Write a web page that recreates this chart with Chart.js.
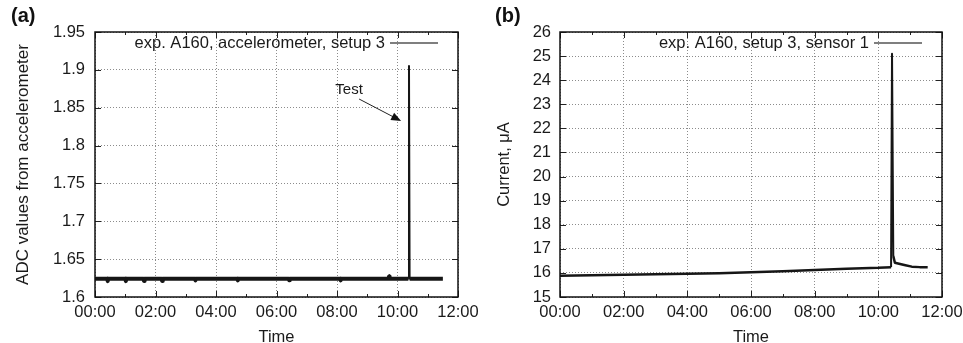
<!DOCTYPE html>
<html>
<head>
<meta charset="utf-8">
<script src="https://cdn.jsdelivr.net/npm/chart.js@4.4.0/dist/chart.umd.min.js"></script>
<style>
html, body { margin: 0; padding: 0; background: #fff; }
#wrap { position: relative; width: 963px; height: 343px; }
.box { position: absolute; top: 0; height: 343px; }
#boxA { left: 0; width: 480px; }
#boxB { left: 480px; width: 483px; }
</style>
</head>
<body>
<div id="wrap">
  <div class="box" id="boxA"><canvas id="chartA" width="480" height="343"></canvas></div>
  <div class="box" id="boxB"><canvas id="chartB" width="483" height="343"></canvas></div>
</div>
<script>
// time axis labels (hours 0..12, every 2 h)
var timeLabels = ["00:00", "02:00", "04:00", "06:00", "08:00", "10:00", "12:00"];

// (a) accelerometer ADC values, time in hours
var accelTime = [0.00, 0.40, 0.42, 0.44, 1.00, 1.02, 1.04, 1.60, 1.62, 1.64, 2.20, 2.22, 2.24,
                 3.30, 3.32, 3.34, 4.70, 4.72, 4.74, 6.40, 6.42, 6.44, 8.10, 8.12, 8.14,
                 9.70, 9.72, 9.74, 10.36, 10.38, 10.40, 10.80, 11.20, 11.50];
var accelValue = [1.624, 1.624, 1.621, 1.624, 1.624, 1.621, 1.624, 1.624, 1.621, 1.624, 1.624, 1.621, 1.624,
                  1.624, 1.622, 1.624, 1.624, 1.622, 1.624, 1.624, 1.622, 1.624, 1.624, 1.622, 1.624,
                  1.624, 1.627, 1.624, 1.624, 1.905, 1.624, 1.624, 1.624, 1.624];

// (b) sensor current, µA
var currentTime = [0, 1, 2, 3, 4, 5, 6, 7, 8, 9, 10, 10.40, 10.43, 10.47, 10.52, 10.65, 10.85, 11.05, 11.30, 11.55];
var currentValue = [15.88, 15.90, 15.92, 15.94, 15.96, 15.99, 16.03, 16.07, 16.12, 16.17, 16.21, 16.24, 25.1, 16.7,
                    16.42, 16.38, 16.32, 16.26, 16.24, 16.24];

Chart.defaults.font.family = "'Liberation Sans', Arial, sans-serif";
Chart.defaults.font.size = 16.5;
Chart.defaults.color = "#1a1a1a";

function toPoints(xs, ys) {
    return xs.map(function(x, i) { return { x: x, y: ys[i] }; });
}

var framePlugin = {
    id: "frame",
    afterDraw: function(chart, args, opts) {
        var ctx = chart.ctx;
        var a = chart.chartArea;
        var xs = chart.scales.x, ys = chart.scales.y;
        ctx.save();
        // inward tick marks on all four sides
        ctx.strokeStyle = "#222";
        ctx.lineWidth = 1;
        ctx.beginPath();
        xs.ticks.forEach(function(t) {
            var px = Math.round(xs.getPixelForValue(t.value)) + 0.5;
            var len = t.value % 2 === 0 ? 6 : 3;
            ctx.moveTo(px, a.bottom); ctx.lineTo(px, a.bottom - len);
            ctx.moveTo(px, a.top); ctx.lineTo(px, a.top + len);
        });
        ys.ticks.forEach(function(t) {
            var py = Math.round(ys.getPixelForValue(t.value)) + 0.5;
            ctx.moveTo(a.left, py); ctx.lineTo(a.left + 6, py);
            ctx.moveTo(a.right, py); ctx.lineTo(a.right - 6, py);
        });
        ctx.stroke();
        // frame
        ctx.lineWidth = 1.5;
        ctx.strokeStyle = "#111";
        ctx.strokeRect(a.left, a.top, a.right - a.left, a.bottom - a.top);

        // x axis title
        ctx.font = "16.5px 'Liberation Sans', Arial, sans-serif";
        ctx.fillStyle = "#1a1a1a";
        ctx.textAlign = "center";
        ctx.textBaseline = "alphabetic";
        ctx.fillText("Time", (a.left + a.right) / 2, a.bottom + 45);

        // legend inside the box
        var ly = a.top + 11;
        ctx.textAlign = "right";
        ctx.textBaseline = "middle";
        ctx.fillText(opts.legend, a.right - 73, ly);
        ctx.strokeStyle = "#555";
        ctx.lineWidth = 1.5;
        ctx.beginPath();
        ctx.moveTo(a.right - 68, ly); ctx.lineTo(a.right - 20, ly);
        ctx.stroke();

        // annotation arrow
        if (opts.arrow) {
            var ar = opts.arrow;
            var tx = xs.getPixelForValue(ar.textAt[0]), ty = ys.getPixelForValue(ar.textAt[1]);
            ctx.font = "15px 'Liberation Sans', Arial, sans-serif";
            ctx.textAlign = "center";
            ctx.fillText(ar.text, tx, ty);
            var x1 = xs.getPixelForValue(ar.from[0]), y1 = ys.getPixelForValue(ar.from[1]);
            var x2 = xs.getPixelForValue(ar.to[0]), y2 = ys.getPixelForValue(ar.to[1]);
            var ang = Math.atan2(y2 - y1, x2 - x1);
            ctx.strokeStyle = "#222";
            ctx.lineWidth = 1;
            ctx.beginPath();
            ctx.moveTo(x1, y1); ctx.lineTo(x2 - 8 * Math.cos(ang), y2 - 8 * Math.sin(ang));
            ctx.stroke();
            ctx.fillStyle = "#111";
            ctx.beginPath();
            ctx.moveTo(x2, y2);
            ctx.lineTo(x2 - 10 * Math.cos(ang) + 4 * Math.sin(ang), y2 - 10 * Math.sin(ang) - 4 * Math.cos(ang));
            ctx.lineTo(x2 - 10 * Math.cos(ang) - 4 * Math.sin(ang), y2 - 10 * Math.sin(ang) + 4 * Math.cos(ang));
            ctx.closePath();
            ctx.fill();
        }

        // panel label
        ctx.font = "bold 20px 'Liberation Sans', Arial, sans-serif";
        ctx.fillStyle = "#111";
        ctx.textAlign = "left";
        ctx.textBaseline = "alphabetic";
        ctx.fillText(opts.panel, opts.panelX, 22);
        ctx.restore();
    }
};

function makeChart(canvasId, xs, ys, cfg) {
    return new Chart(document.getElementById(canvasId), {
        type: "line",
        data: {
            datasets: [{
                data: toPoints(xs, ys),
                borderColor: "#161616",
                borderWidth: cfg.lineWidth,
                borderJoinStyle: "round",
                segment: {
                    // the tall spike is drawn thinner than the noisy base line
                    borderWidth: function(s) {
                        var big = Math.abs(s.p1.parsed.y - s.p0.parsed.y) > cfg.spikeJump;
                        return big ? cfg.spikeWidth : cfg.lineWidth;
                    }
                },
                pointRadius: 0,
                tension: 0
            }]
        },
        options: {
            responsive: false,
            animation: false,
            layout: { padding: { left: 0, right: cfg.padRight, top: 32, bottom: 0 } },
            plugins: {
                legend: { display: false },
                tooltip: { enabled: false },
                frame: { legend: cfg.legend, arrow: cfg.arrow, panel: cfg.panel, panelX: cfg.panelX }
            },
            scales: {
                x: {
                    type: "linear",
                    min: 0, max: 12,
                    afterFit: function(s) { s.height = 46; s.paddingLeft = 0; s.paddingRight = 0; },
                    ticks: {
                        stepSize: 1,
                        autoSkip: false,
                        maxRotation: 0,
                        padding: 6,
                        callback: function(v) { return v % 2 === 0 ? timeLabels[v / 2] : ""; }
                    },
                    grid: {
                        drawTicks: false,
                        color: function(c) { return c.tick && c.tick.value % 2 !== 0 ? "rgba(0,0,0,0)" : "#8c8c8c"; }
                    },
                    border: { display: false, dash: [1, 2] }
                },
                y: {
                    min: cfg.yMin, max: cfg.yMax,
                    afterFit: function(s) { s.width = cfg.yWidth; },
                    ticks: {
                        stepSize: cfg.yStep,
                        padding: cfg.yPad,
                        callback: function(v) { return String(Math.round(v * 100) / 100); }
                    },
                    grid: { drawTicks: false, color: "#8c8c8c" },
                    border: { display: false, dash: [1, 2] },
                    title: { display: true, text: cfg.yTitle, font: { size: cfg.yTitleSize }, padding: { top: cfg.yTitlePad, bottom: 0 } }
                }
            }
        },
        plugins: [framePlugin]
    });
}

makeChart("chartA", accelTime, accelValue, {
    lineWidth: 4, spikeWidth: 2, spikeJump: 0.05, padRight: 22, yWidth: 95, yPad: 10,
    yMin: 1.6, yMax: 1.95, yStep: 0.05,
    yTitle: "ADC values from accelerometer", yTitleSize: 17, yTitlePad: 13,
    legend: "exp. A160, accelerometer, setup 3",
    arrow: { text: "Test", textAt: [8.4, 1.873], from: [8.73, 1.8615], to: [10.12, 1.8325] },
    panel: "(a)", panelX: 11
});

makeChart("chartB", currentTime, currentValue, {
    lineWidth: 2.5, spikeWidth: 2, spikeJump: 1, padRight: 21, yWidth: 80, yPad: 9,
    yMin: 15, yMax: 26, yStep: 1,
    yTitle: "Current, μA", yTitleSize: 16.5, yTitlePad: 15,
    legend: "exp. A160, setup 3, sensor 1",
    arrow: null,
    panel: "(b)", panelX: 15
});
</script>
</body>
</html>
